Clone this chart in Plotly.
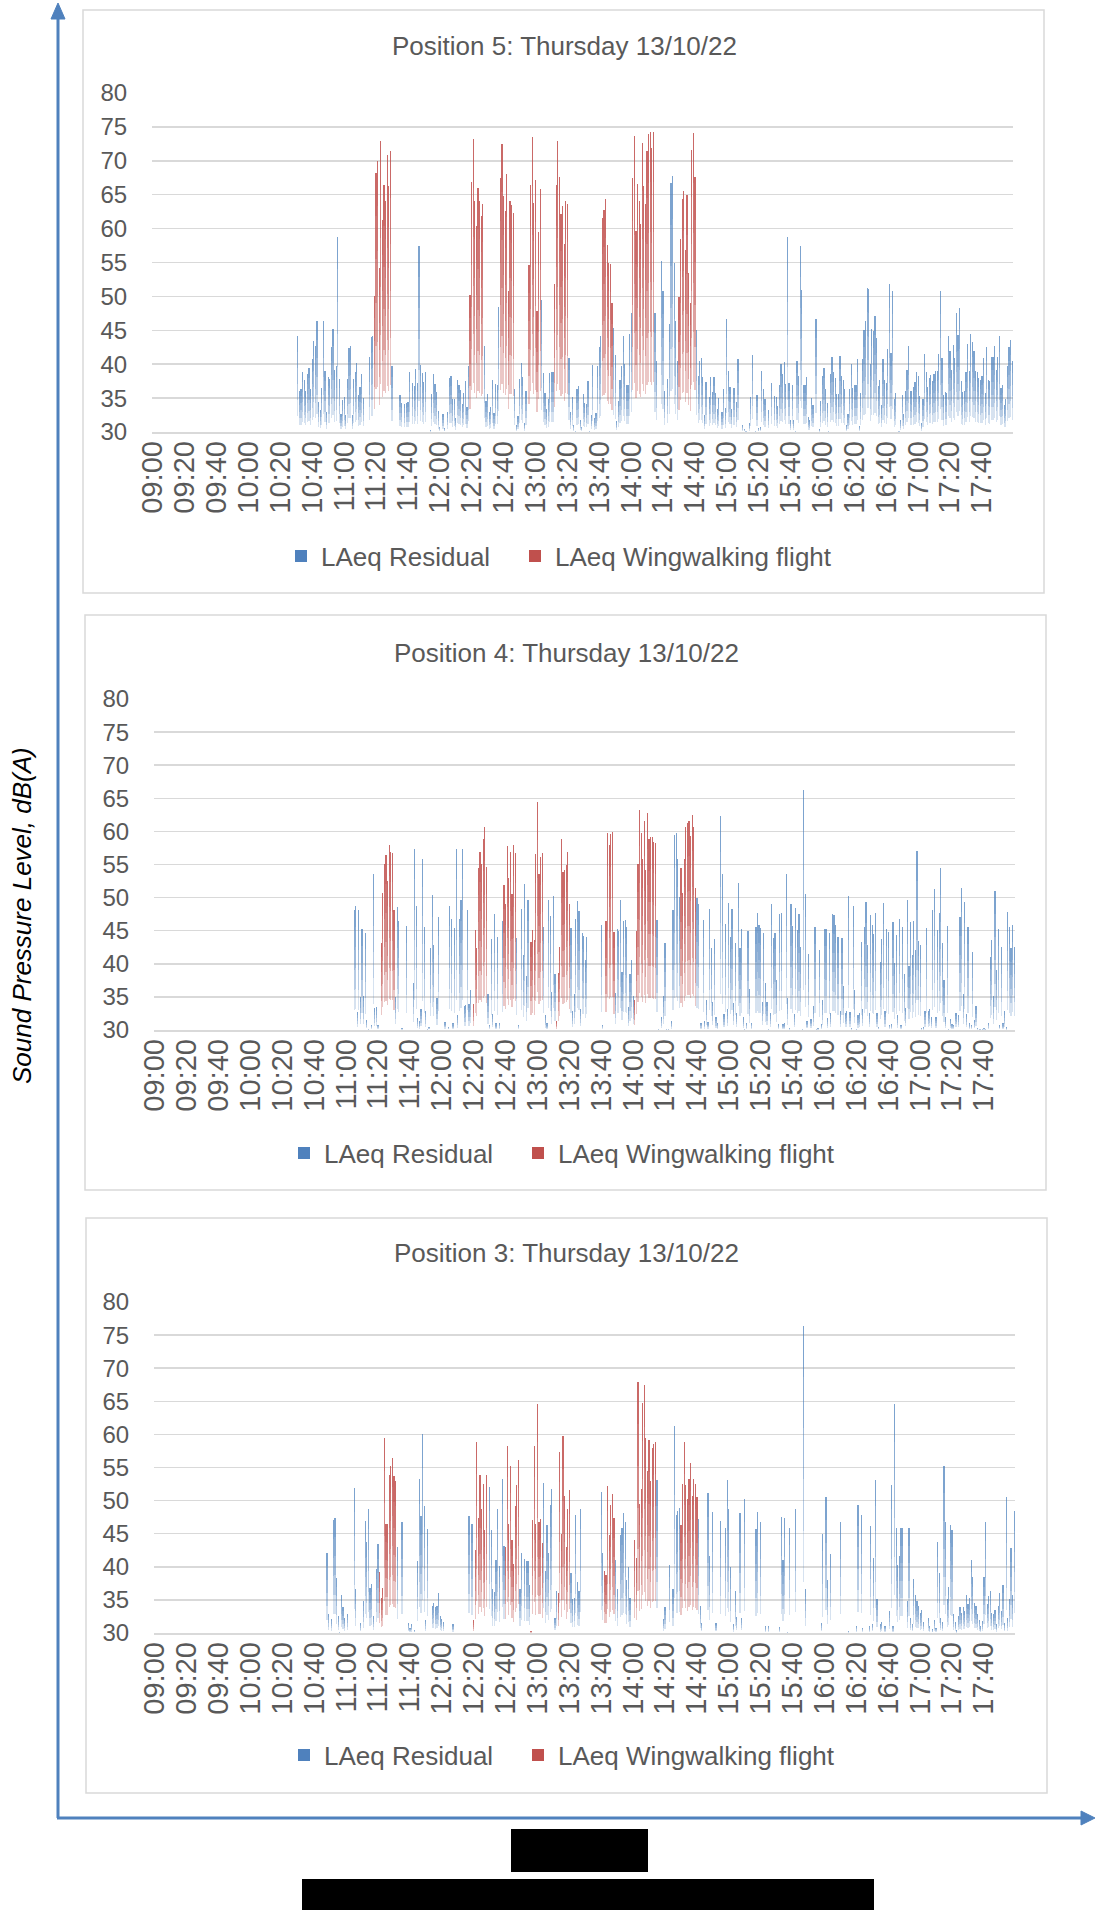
import plotly.graph_objects as go

# ---------------- data (LAeq, 1-minute values, dB(A)) ----------------
TICK_LABELS = ["09:00", "09:20", "09:40", "10:00", "10:20", "10:40", "11:00", "11:20",
               "11:40", "12:00", "12:20", "12:40", "13:00", "13:20", "13:40", "14:00",
               "14:20", "14:40", "15:00", "15:20", "15:40", "16:00", "16:20", "16:40",
               "17:00", "17:20", "17:40"]
AXIS_START = "09:00"
AXIS_END = "17:59"

SERIES_NAMES = ["LAeq Residual", "LAeq Wingwalking flight"]

P5_TITLE = "Position 5: Thursday 13/10/22"
P5_START = "10:31"
P5_LAEQ = [
    44.1, 36, 36.4, 38.8, 37.7, 36, 38.5, 39.5, 36.4, 40.7, 43.4, 42.7, 46.3, 34.4, 33.3, 36.5, 46.3, 39, 33, 38.1,
    37.8, 42.6, 45.2, 39.2, 39.7, 58.8, 37.8, 32.6, 34.7, 35.2, 32.5, 37.8, 42.4, 42.7, 32.5, 37.8, 38.8, 40.2, 35.5, 36.6,
    38.5, 35,
    30, 30, 30, 41, 44, 44.2,
    50.1, 68.2, 70, 54.2, 72.9, 61.3, 66.4, 64.1, 70.8, 66.3, 71.5,
    39.8, 30, 30, 30, 30, 35.5, 34.3, 30, 34.2, 34.3, 34.4, 38.9, 30, 37.3, 36.8, 39.3, 37.3, 57.5, 39.9, 38.7,
    37.4, 38.9, 30, 30, 30.3, 35.6, 38.5, 37.1, 35.9, 33.1, 30.8, 30, 32.7, 30.6, 30, 33, 38, 38.2, 34.8, 34.9,
    32.1, 37.6, 36.9, 36.2, 34.2, 35.8, 37.5, 33.7, 39.8,
    50.2, 66.9, 73.2, 64.1, 60.4, 66, 64.1, 61.8, 63.6,
    42.7, 34.5, 35.6, 32.9, 33.7, 37.6, 32.8, 37.1, 36.9, 48.5,
    67.4, 72.5, 64.8, 62.6, 68, 50.8, 64, 63.5, 62.3,
    36.3, 31, 32.3, 37.8, 40.2, 38.1, 31.3, 36.1, 30,
    54.6, 66.4, 73.5, 63.8, 67.2, 47.8, 59.5, 65.9,
    49.5, 38.7, 35.8, 33.4, 34.8, 38.7, 38.9, 38.8,
    51.8, 66.4, 72.9, 67.6, 62.1, 63.3, 57.7, 64.1, 63.6,
    40.9, 33, 35.1, 31.1, 30.2, 36.4, 36.8, 31.7, 30.8, 35.6, 34.3, 34.2, 37.5, 30.2, 32.5, 39.9, 32.1, 32.8, 39.8, 42.5,
    44.1,
    61.5, 62.8, 64.3, 57.6, 55, 54.8, 49.1,
    45.4, 41.4, 31.6, 34.5, 37.7, 39.7, 44.1, 40, 36.9, 36.9, 44.5, 47.6,
    67.4, 73.6, 59.7, 66.6, 64, 60.7, 72.6, 66.3, 63.7, 71.5, 74, 74.2, 71.9, 74.3,
    47.6, 40.5, 30, 30, 55.2, 50.8, 36, 30, 37.8, 45.9, 66.7, 67.7, 54.9, 46.3, 40.4,
    49.9, 58.5, 64.4, 65.6, 56.9, 64.9, 53.5, 49, 71.6, 74.1, 67.6,
    45, 38.3, 40.4, 40.9, 38.1, 32.5, 37.4, 30, 35.2, 38.1, 35.9, 38.1, 35.8, 33.4, 35, 30, 32.9, 36.4, 33.5, 46.7,
    39,
    36.7, 33.4, 36.5, 36.5, 34.4, 40.8, 30, 30, 31.1, 30.5,
    30.2, 30, 31.3, 35.2, 41.3, 30, 30.2, 35.5, 30.6, 30.7,
    39, 36.3, 34.8, 30, 33.2, 30, 37.3, 30, 35.3, 35.2,
    33.9, 37, 40, 38.6, 40.3, 37.1, 58.7, 37.3, 31.8, 36.9,
    31.8, 30.2, 40.5, 38.2, 57.4, 50.9, 36.9, 36.9, 38.1, 32.2,
    31.7, 35, 34, 30, 46.6, 30, 30.4, 34.6, 38.3, 39.5,
    36.3, 34.3, 30.2, 38.6, 41, 38.8, 38, 35.6, 35.6, 41.2,
    38.2, 37.6, 36.4, 31, 32.6, 36.3, 40.1, 36.5, 37, 37,
    40.7, 30.9, 35.8, 40.8, 45.1, 46.3, 51.2, 51.1, 40, 45.2,
    44.9, 47.1, 43.9, 36.8, 37.6, 34, 40.7, 37.6, 37.2, 42.3,
    51.9, 41.6, 50.8, 34.8, 35.8, 30, 30.2, 31.8, 35.5, 32.7,
    36, 39.2, 42.7, 36.1, 36, 36.6, 37.4, 38.9, 38.2, 35.3,
    31.3, 34.8, 41.5, 38.8, 36.6, 37.9, 38.4, 37.5, 38.6, 39,
    39, 41.5, 50.8, 40.9, 35.5, 35.9, 35.8, 44.2, 42, 39.2,
    42.8, 40.9, 47.6, 44.3, 48.3, 37.5, 35.9, 36.1, 38.8, 43,
    39, 44.4, 43.3, 42, 39, 38.9, 37.9, 37.7, 38.3, 40.9,
    35.8, 42.6, 37.6, 37.5, 41, 41, 42.7, 39.2, 41, 44.1,
    36.5, 36.9, 34, 34.8, 39.7, 42.6, 43.6, 40.5,
]
P5_FLIGHTS = [("11:19", "11:29"), ("12:19", "12:27"), ("12:38", "12:46"), ("12:56", "13:03"),
              ("13:12", "13:20"), ("13:42", "13:48"), ("14:01", "14:14"), ("14:30", "14:40")]

P4_TITLE = "Position 4: Thursday 13/10/22"
P4_START = "11:05"
P4_LAEQ = [
    48.1, 48.7, 32.7, 48.1, 35, 45.2, 35.2, 44.6, 31.5, 30.2, 30, 30.8, 53.5, 33.3, 33.5, 30.8, 30,
    43.2, 50.7, 55.1, 56.5, 52.5, 57.9, 56.9, 56.8, 48.1,
    35, 48.6, 46.4, 30, 30.3, 30, 30, 45.7, 30, 30,
    30, 37.1, 57.3, 48.8, 31.8, 31.3, 33.2, 55.9, 45.5, 32.9,
    30.2, 30.5, 42.4, 50.4, 42.9, 30, 34.8, 47, 30, 30,
    30, 31.2, 30, 30.5, 48.8, 46.8, 31, 45.4, 57.3, 32.2,
    46.8, 49.7, 57.3, 33.6, 33.8, 48.1, 34, 36, 30,
    33.9, 45.1, 42.4, 54.4, 56.9, 55.1, 58.8, 60.7, 54.6,
    35.4, 30.8, 43.8, 32.4, 47.5, 31, 44, 31.1, 30, 46.4,
    51.9, 49.1, 57.8, 53, 56.9, 50.6, 57.9, 56.7,
    43.9, 30.8, 30, 48.3, 41.4, 52.1, 38.2, 49.7, 30,
    43.3, 45.1, 43.6, 56.6, 64.5, 53.5, 56.2, 56.8,
    45.6, 32.2, 31, 49.7, 47.2, 35.7, 50.3, 38.4,
    31.3, 38.6, 42.5, 58.8, 53.9, 54.1, 55, 56.9, 49.1,
    45.4, 32.8, 35.4, 46.7, 49.5, 48, 33.2, 44.7, 44.2, 40.6, 44.1, 30, 30, 30, 30, 30, 30, 30, 30, 45.9,
    30.8, 30,
    46.4, 59.8, 57.9, 59.6, 59.9, 44.8,
    35.6, 45.3, 45, 49.7, 38.7, 46.5, 46.6, 45.6, 33.4, 38.5, 40.6, 35.1,
    34.5, 44.9, 55.1, 63.3, 59.8, 55.8, 61.6, 54.1, 62.8, 58.9, 59.1, 59.1, 58.4, 58.2,
    46.6, 30.2, 30, 32, 35.1, 43.1, 30.2, 30.2, 30, 31.3, 48.1, 59.4, 59.8, 55.9, 50.1,
    54.5, 50.7, 55.9, 60.7, 61.3, 61.5, 59.3, 62.5, 60.6, 51.4,
    50, 49, 31.1, 31.1, 46.6, 31.3, 34.5, 31.2, 48.3, 42.4,
    34.3, 43.7, 32, 31.1, 30, 62.3, 53.5, 32.4, 46, 33.2,
    49.2, 44.1, 48.3, 34.1, 43.2, 32.5, 52.2, 42.4, 45.2, 31.9,
    30.2, 31.1, 44.9, 36.2, 31.1, 30, 30, 45.5, 47.6, 45.8,
    45.4, 34.3, 44.7, 37.1, 34.3, 30.2, 32.6, 49.1, 43.9, 44.6,
    37.5, 30.9, 47.5, 47.7, 30.9, 31, 53.5, 34.8, 30.3, 49.1,
    45.7, 32.4, 48.5, 45.1, 47.5, 42.6, 30.2, 66.3, 50.5, 31.4,
    41.5, 31.7, 31.7, 33.7, 45.5, 30.2, 30.3, 42.1, 30.9, 34.5,
    45.3, 45.2, 31.8, 44.7, 32.5, 47.5, 47.4, 45.8, 44, 44,
    32.9, 43.9, 36.7, 32.5, 32.8, 50.3, 32.7, 30.3, 48.7, 36,
    30.2, 32.2, 32.5, 43.3, 33.2, 45.5, 49.4, 42.9, 32.5, 47.3,
    45.8, 44.5, 47.7, 32.5, 30.5, 40.3, 43.8, 49.2, 32.9, 45.3,
    44.8, 30.8, 30.9, 46.3, 40.1, 44.3, 32.2, 46.8, 30.8, 45.5,
    38.5, 33.3, 49.6, 39.6, 46.3, 41.3, 46.5, 42.1, 57.1, 43.4,
    42.9, 30.3, 30.4, 32.9, 45.4, 32.8, 33.2, 31.9, 48.1, 51.3,
    32, 45.1, 47.6, 54.5, 43.1, 37.6, 31.9, 45.7, 30.2, 31.7,
    30.9, 30.8, 32.6, 32.5, 32.3, 47.1, 51.4, 35.5, 49.4, 32.4,
    45.6, 31, 30.8, 41.8, 31.5, 33.7, 30.3, 30.2, 30.2, 30.2,
    30.3, 30.2, 30, 31.1, 41, 43.6, 35.1, 51, 39.1, 45.2,
    30.7, 42.6, 31, 32.8, 30.4, 47.8, 45.6, 42.4, 45.9, 42.6,
]
P4_FLIGHTS = [("11:22", "11:30"), ("12:20", "12:28"), ("12:39", "12:46"), ("12:56", "13:03"),
              ("13:12", "13:20"), ("13:43", "13:48"), ("14:01", "14:14"), ("14:30", "14:39")]

P3_TITLE = "Position 3: Thursday 13/10/22"
P3_START = "10:48"
P3_LAEQ = [
    42.1, 32.9, 30, 32.1, 47.1, 47.4, 38.3, 32.5, 30.2, 35.8,
    33.9, 32.2, 30, 32.9, 30, 30, 30, 51.9, 36.6, 30,
    30, 31.5, 30, 34.9, 46.9, 43.8, 48.8, 36.8, 37.4, 32.6,
    30, 39.7, 43.5,
    39.2, 35.3, 36.8, 59.4, 46.5, 46.4, 53.9, 55.3, 56.4, 53.7, 53,
    43, 30, 30, 46.8, 30, 30, 30, 31.5, 30.8, 31.3,
    30, 30.5, 30, 40.9, 53.3, 47.7, 60, 49.2, 32, 45.7,
    30, 30, 34.1, 34.5, 33.9, 34.1, 36, 32.5, 32.1, 31.7,
    30, 30, 30, 30, 30, 31.3, 30, 30, 30, 30,
    30, 30, 30, 30, 30, 47.7, 30, 46.4,
    31.9, 42.6, 58.8, 47.4, 53.9, 48.8, 52.5, 45.5, 53.9,
    30, 52.1, 45.5, 36.6, 36.2, 41.1, 48.8, 40.1, 30, 53.3, 43.1,
    43, 58.2, 46.4, 55.3, 44, 40.4, 49.2, 52.3, 56.2,
    36.6, 42.1, 30, 41.2, 40.9, 40.9, 37.2,
    30.3, 47.1, 58.2, 46.4, 64.6, 46.8, 47.2, 43.6,
    52.6, 39.3, 46.3, 42.1, 49.3, 51.7, 30, 32.3, 36.3,
    36, 57.4, 44.9, 59.8, 50.7, 43, 48.7, 51.6,
    39, 35.1, 35.3, 47.8, 37.7, 36.3, 48.8, 30, 30, 30, 30, 30, 30, 30, 30, 30, 30, 30, 30, 51.3,
    42.1,
    39.3, 38.7, 52.2, 44.8, 49.4, 51, 47.3,
    41, 36.6, 30, 44.8, 45.9, 48.1, 46.8, 38, 39.9, 35.3, 30, 30,
    44, 41.4, 67.9, 49.5, 51.8, 64.8, 67.4, 59.4, 54.4, 59.2, 53, 57.9, 58.6, 58.8,
    53.1, 30, 30, 30, 32.1, 34, 30, 30, 40.2, 30, 36.6, 61.3, 47.9, 48.4, 48.9,
    46.3, 52.5, 58.9, 52.3, 50.3, 53.2, 55.7, 50.7, 53.2, 52.5, 50.5,
    47.2, 34.1, 31.5, 30, 30, 30, 51.1, 41.6, 30, 48.3,
    30, 31.5, 30, 30, 46.9, 30, 30, 45.8, 53.1, 48.7,
    40, 30, 31.3, 36.3, 32.4, 30, 48.1, 32.3, 30, 50.2,
    30, 30, 30, 30, 30, 30, 45.7, 48.3, 30, 46.8,
    30, 30, 31, 30, 31.1, 30, 30, 30, 30, 30,
    30, 30.9, 47.5, 41.1, 47.3, 30, 30.2, 45.9, 30, 30,
    30, 48.7, 30, 30, 30, 30, 76.4, 36.6, 30, 30,
    30, 30, 30, 30, 30, 30, 30, 31.5, 44.9, 30,
    50.5, 38, 30, 42, 30, 30, 30, 30, 30, 46.8,
    30, 30, 30, 30, 30.3, 30, 30, 30, 30, 31.1,
    49.4, 30, 47.9, 30.8, 30, 30, 30, 31, 46.2, 31.4,
    41.3, 53.1, 35.1, 30, 31.3, 31.6, 30, 31.1, 30, 30,
    33.3, 52.4, 31.1, 64.6, 45.8, 40.2, 41.7, 45.8, 45.8, 30,
    30, 34.8, 45.8, 32.3, 31.4, 38.2, 35.7, 34.9, 34.1, 33,
    33.4, 31.7, 30, 30, 32.2, 31.1, 30, 30.6, 32, 30.8,
    43.8, 39.1, 32.3, 31.6, 55.3, 46.8, 35.1, 36.9, 46.3, 45.5,
    32.8, 31.6, 30.4, 32.5, 34, 33, 34, 33.3, 35.7, 34.4,
    35.3, 41, 38.4, 34.5, 34.1, 32.9, 32, 31, 31.8, 38.4,
    46.7, 34.4, 35.6, 36.3, 33, 32.8, 33.5, 31.3, 34.1, 36.1,
    33.3, 37.2, 31.5, 50.5, 32.2, 35.2, 42.8, 35.7, 48.4,
]
P3_FLIGHTS = [("11:21", "11:31"), ("12:20", "12:28"), ("12:40", "12:48"), ("12:56", "13:03"),
              ("13:13", "13:20"), ("13:42", "13:48"), ("14:01", "14:14"), ("14:30", "14:40")]

Y_MIN, Y_MAX, Y_STEP = 30, 80, 5
Y_TITLE = "Sound Pressure Level, dB(A)"

# ---------------- styling ----------------
W, H = 1096, 1910
FONT = "Liberation Sans, Arial, sans-serif"
TEXT = "#595959"
GRID = "#d9d9d9"
BLUE = (79, 129, 189)
RED = (192, 80, 77)
ARROW = "#4F81BD"
N_LAYERS = 5
ALPHA = {BLUE: 0.23, RED: 0.32}
BAR_WIDTH = 0.75


def to_min(t):
    h, m = t.split(":")
    return (int(h) - int(AXIS_START[:2])) * 60 + int(m) - int(AXIS_START[3:])


def rgba(c, a):
    return "rgba(%d,%d,%d,%.3f)" % (c[0], c[1], c[2], a)


def px(x):
    return x / W


def py(y):
    return 1 - y / H


N_MIN = to_min(AXIS_END) + 1

panels = [
    dict(title=P5_TITLE, start=P5_START, values=P5_LAEQ, flights=P5_FLIGHTS,
         x0=152, x1=1013, ytop=93, ybot=432, box=(83, 10, 1044, 593), ty=46, tx=564,
         ly=556, lxs=(281, 515)),
    dict(title=P4_TITLE, start=P4_START, values=P4_LAEQ, flights=P4_FLIGHTS,
         x0=154, x1=1015, ytop=699, ybot=1030, box=(85, 615, 1046, 1190), ty=653, tx=566,
         ly=1153, lxs=(284, 518)),
    dict(title=P3_TITLE, start=P3_START, values=P3_LAEQ, flights=P3_FLIGHTS,
         x0=154, x1=1015, ytop=1302, ybot=1633, box=(86, 1218, 1047, 1793), ty=1253, tx=566,
         ly=1755, lxs=(284, 518)),
]

fig = go.Figure()
layout = dict(
    width=W, height=H, margin=dict(l=0, r=0, t=0, b=0, pad=0, autoexpand=False),
    paper_bgcolor="white", plot_bgcolor="white",
    barmode="overlay", bargap=0,
    font=dict(family=FONT, color=TEXT),
    shapes=[], annotations=[],
)

tickvals = [to_min(t) for t in TICK_LABELS]
legend_count = 0

for i, p in enumerate(panels):
    sfx = "" if i == 0 else str(i + 1)
    xa, ya = "x" + sfx, "y" + sfx
    start = to_min(p["start"])
    flights = [(to_min(a), to_min(b)) for a, b in p["flights"]]
    xs, vs, cs = [], [], []
    for k, v in enumerate(p["values"]):
        m = start + k
        if m >= N_MIN or v <= Y_MIN:
            continue
        in_flight = any(a <= m <= b for a, b in flights)
        xs.append(m)
        vs.append(v)
        cs.append(RED if in_flight else BLUE)

    # gradient-like fill: stacked translucent layers, denser towards bar top
    for j in range(N_LAYERS):
        frac = (j + 1) / (N_LAYERS + 1)
        base = [Y_MIN + (v - Y_MIN) * frac for v in vs]
        length = [v - b for v, b in zip(vs, base)]
        fig.add_trace(go.Bar(
            x=xs, y=length, base=base, width=BAR_WIDTH,
            marker=dict(color=[rgba(c, ALPHA[c]) for c in cs], line=dict(width=0)),
            xaxis=xa, yaxis=ya, showlegend=False, hoverinfo="skip",
        ))

    # one legend box per series so each entry sits where the original has it
    for name, col, lx in zip(SERIES_NAMES, [BLUE, RED], p["lxs"]):
        legend_count += 1
        leg = "legend" if legend_count == 1 else "legend%d" % legend_count
        fig.add_trace(go.Bar(
            x=[None], y=[None], name=name, marker=dict(color=rgba(col, 1), line=dict(width=0)),
            xaxis=xa, yaxis=ya, legend=leg, showlegend=True,
        ))
        layout[leg] = dict(
            orientation="h", x=px(lx), y=py(p["ly"]), xanchor="left", yanchor="middle",
            font=dict(size=26, color=TEXT, family=FONT), bgcolor="rgba(0,0,0,0)",
            borderwidth=0, itemwidth=30,
        )

    layout["xaxis" + sfx] = dict(
        domain=[px(p["x0"]), px(p["x1"])], anchor=ya, automargin=False,
        range=[-0.5, N_MIN - 0.5],
        tickmode="array", tickvals=tickvals, ticktext=TICK_LABELS,
        tickangle=-90, tickfont=dict(size=29, color=TEXT, family=FONT),
        ticks="",
        showgrid=False, zeroline=False,
        showline=True, linecolor=GRID, linewidth=1.5,
        fixedrange=True,
    )
    layout["yaxis" + sfx] = dict(
        domain=[py(p["ybot"]), py(p["ytop"])], anchor=xa, automargin=False,
        range=[Y_MIN, Y_MAX], tick0=Y_MIN, dtick=Y_STEP,
        tickfont=dict(size=24, color=TEXT, family=FONT),
        ticks="outside", ticklen=19, tickcolor="rgba(0,0,0,0)",
        showgrid=True, gridcolor=GRID, gridwidth=1.5,
        zeroline=False, showline=False, fixedrange=True,
    )
    bx0, by0, bx1, by1 = p["box"]
    layout["shapes"].append(dict(
        type="rect", xref="paper", yref="paper",
        x0=px(bx0), x1=px(bx1), y0=py(by1), y1=py(by0),
        line=dict(color=GRID, width=1.5), fillcolor="rgba(0,0,0,0)", layer="below",
    ))
    layout["annotations"].append(dict(
        text=p["title"], xref="paper", yref="paper", x=px(p["tx"]), y=py(p["ty"]),
        xanchor="center", yanchor="middle", showarrow=False,
        font=dict(size=26, color=TEXT, family=FONT),
    ))

# outer axis arrows
layout["shapes"] += [
    dict(type="line", xref="paper", yref="paper", x0=px(58), x1=px(58), y0=py(1818), y1=py(16),
         line=dict(color=ARROW, width=3)),
    dict(type="path", xref="paper", yref="paper",
         path="M %f,%f L %f,%f L %f,%f Z" % (px(58), py(3), px(51), py(19), px(65), py(19)),
         fillcolor=ARROW, line=dict(color=ARROW, width=1)),
    dict(type="line", xref="paper", yref="paper", x0=px(57), x1=px(1083), y0=py(1818), y1=py(1818),
         line=dict(color=ARROW, width=3)),
    dict(type="path", xref="paper", yref="paper",
         path="M %f,%f L %f,%f L %f,%f Z" % (px(1095), py(1818), px(1081), py(1811), px(1081), py(1825)),
         fillcolor=ARROW, line=dict(color=ARROW, width=1)),
    # redaction boxes
    dict(type="rect", xref="paper", yref="paper", x0=px(511), x1=px(648), y0=py(1872), y1=py(1829),
         fillcolor="black", line=dict(width=0)),
    dict(type="rect", xref="paper", yref="paper", x0=px(302), x1=px(874), y0=py(1910), y1=py(1879),
         fillcolor="black", line=dict(width=0)),
]

layout["annotations"].append(dict(
    text="<i>" + Y_TITLE + "</i>", xref="paper", yref="paper", x=px(22), y=py(916),
    xanchor="center", yanchor="middle", textangle=-90, showarrow=False,
    font=dict(size=26, color="#000000", family=FONT),
))

fig.update_layout(**layout)
# pull the rotated time labels a little closer to the axis, as in the original
for sfx in ["", "2", "3"]:
    try:
        fig.layout["xaxis" + sfx].ticklabelstandoff = -4
    except Exception:
        pass

fig.write_html(
    "out.html",
    config={"staticPlot": True},
    post_script="document.body.style.margin='0px';document.body.style.overflow='hidden';",
)
